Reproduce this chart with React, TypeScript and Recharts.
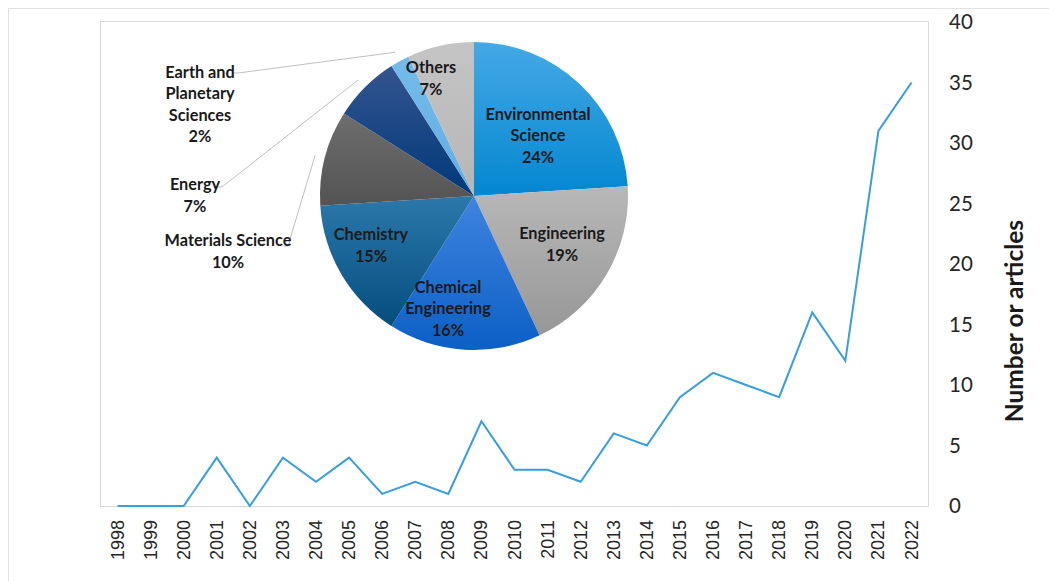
import { Cell, Label, Line, LineChart, Pie, PieChart, XAxis, YAxis } from "recharts"

const years = [
  "1998", "1999", "2000", "2001", "2002", "2003", "2004", "2005", "2006",
  "2007", "2008", "2009", "2010", "2011", "2012", "2013", "2014", "2015",
  "2016", "2017", "2018", "2019", "2020", "2021", "2022",
]
const articles = [0, 0, 0, 4, 0, 4, 2, 4, 1, 2, 1, 7, 3, 3, 2, 6, 5, 9, 11, 10, 9, 16, 12, 31, 35]
const yTicks = [0, 5, 10, 15, 20, 25, 30, 35, 40]

const subjects = [
  "Environmental Science",
  "Engineering",
  "Chemical Engineering",
  "Chemistry",
  "Materials Science",
  "Energy",
  "Earth and Planetary Sciences",
  "Others",
]
const shares = [24, 19, 16, 15, 10, 7, 2, 7]

const lineData = years.map((year, i) => ({ year, count: articles[i] }))
const pieData = subjects.map((name, i) => ({ name, value: shares[i] }))

// top / bottom colour of each slice's vertical gradient
const SLICE_COLORS: [string, string][] = [
  ["#45a9e6", "#0387d0"],
  ["#b8b8b8", "#979797"],
  ["#3f84de", "#0c5fc6"],
  ["#2c78ab", "#044e7e"],
  ["#6e6e6e", "#535353"],
  ["#34548f", "#00397a"],
  ["#74bbea", "#62ade2"],
  ["#c4c4c4", "#b6b6b6"],
]

// label block layout, offsets from the pie centre
const LABELS: Record<string, { lines: string[]; dx: number; dy: number; hook?: [number, number] }> = {
  "Environmental Science": { lines: ["Environmental", "Science"], dx: 64, dy: -62 },
  Engineering: { lines: ["Engineering"], dx: 88, dy: 47 },
  "Chemical Engineering": { lines: ["Chemical", "Engineering"], dx: -26, dy: 111 },
  Chemistry: { lines: ["Chemistry"], dx: -103, dy: 48 },
  "Materials Science": { lines: ["Materials Science"], dx: -246, dy: 54, hook: [-186, 50] },
  Energy: { lines: ["Energy"], dx: -279, dy: -2, hook: [-252, -9] },
  "Earth and Planetary Sciences": {
    lines: ["Earth and", "Planetary", "Sciences"],
    dx: -274,
    dy: -93,
    hook: [-236, -123],
  },
  Others: { lines: ["Others"], dx: -43, dy: -119 },
}

const LINE_H = 21.5
const RAD = Math.PI / 180
const FONT = "Lato, 'Open Sans', sans-serif"

const renderPieLabel = (props: any) => {
  const { cx, cy, midAngle, outerRadius, name, value } = props
  const cfg = LABELS[name]
  const lines = [...cfg.lines, `${value}%`]
  const x = cx + cfg.dx
  const top = cy + cfg.dy - ((lines.length - 1) * LINE_H) / 2
  let leader = null
  if (cfg.hook) {
    const r = outerRadius + 10
    const ex = cx + r * Math.cos(-midAngle * RAD)
    const ey = cy + r * Math.sin(-midAngle * RAD)
    const hx = cx + cfg.hook[0]
    const hy = cy + cfg.hook[1]
    leader = (
      <polyline
        points={`${hx - 5},${hy} ${hx},${hy} ${ex},${ey}`}
        fill="none"
        stroke="#bfbfbf"
        strokeWidth={1}
      />
    )
  }
  return (
    <g key={name}>
      {leader}
      <text
        x={x}
        y={top}
        textAnchor="middle"
        dominantBaseline="central"
        fontFamily={FONT}
        fontWeight={700}
        fontSize={16.3}
        fill="#1a1a1a"
      >
        {lines.map((l, i) => (
          <tspan key={i} x={x} y={top + i * LINE_H}>
            {l}
          </tspan>
        ))}
      </text>
    </g>
  )
}

const YearTick = ({ x, y, payload }: any) => (
  <text
    x={x}
    y={y}
    transform={`rotate(-90 ${x} ${y})`}
    textAnchor="end"
    dominantBaseline="central"
    fontFamily="'Liberation Sans', Arial, sans-serif"
    fontSize={18}
    fill="#262626"
  >
    {payload.value}
  </text>
)

const AxisTitle = ({ viewBox }: any) => {
  const x = viewBox.x + 85
  const y = viewBox.y + 299
  return (
    <text
      x={x}
      y={y}
      transform={`rotate(-90 ${x} ${y})`}
      textAnchor="middle"
      dominantBaseline="central"
      fontFamily={FONT}
      fontWeight={700}
      fontSize={24.5}
      fill="#1a1a1a"
    >
      Number or articles
    </text>
  )
}

export default function App() {
  return (
    <div
      style={{
        position: "absolute",
        left: 0,
        top: 0,
        width: 1049,
        height: 581,
        background: "#fff",
        overflow: "hidden",
      }}
    >
      <div
        style={{
          position: "absolute",
          left: 8,
          top: 8,
          width: 1100,
          height: 640,
          border: "1px solid #e2e2e2",
        }}
      />
      <div
        style={{
          position: "absolute",
          left: 100,
          top: 21,
          width: 827,
          height: 484,
          border: "1px solid #d9d9d9",
        }}
      />
      <div style={{ position: "absolute", left: 0, top: 0 }}>
        <LineChart
          width={1049}
          height={581}
          data={lineData}
          margin={{ top: 22, right: 21, bottom: 15, left: 101 }}
        >
          <XAxis
            dataKey="year"
            interval={0}
            height={60}
            tickLine={false}
            axisLine={false}
            tickMargin={8}
            padding={{ left: 16.5, right: 16.5 }}
            tick={<YearTick />}
          />
          <YAxis
            orientation="right"
            width={100}
            domain={[0, 40]}
            ticks={yTicks}
            tickLine={false}
            axisLine={false}
            tickMargin={15}
            tick={{ fontFamily: FONT, fontSize: 20.5, fill: "#262626" }}
          >
            <Label content={<AxisTitle />} />
          </YAxis>
          <Line
            type="linear"
            dataKey="count"
            stroke="#3a9ddd"
            strokeWidth={2}
            dot={false}
            isAnimationActive={false}
          />
        </LineChart>
      </div>
      <div style={{ position: "absolute", left: 0, top: 0 }}>
        <PieChart width={1049} height={581}>
          <defs>
            {SLICE_COLORS.map(([a, b], i) => (
              <linearGradient key={i} id={`slice${i}`} x1="0" y1="0" x2="0" y2="1">
                <stop offset="0%" stopColor={a} />
                <stop offset="100%" stopColor={b} />
              </linearGradient>
            ))}
          </defs>
          <Pie
            data={pieData}
            dataKey="value"
            nameKey="name"
            cx={469}
            cy={191}
            outerRadius={154}
            startAngle={90}
            endAngle={-270}
            stroke="none"
            label={renderPieLabel}
            labelLine={false}
            isAnimationActive={false}
          >
            {pieData.map((d, i) => (
              <Cell key={d.name} fill={`url(#slice${i})`} />
            ))}
          </Pie>
        </PieChart>
      </div>
    </div>
  )
}
